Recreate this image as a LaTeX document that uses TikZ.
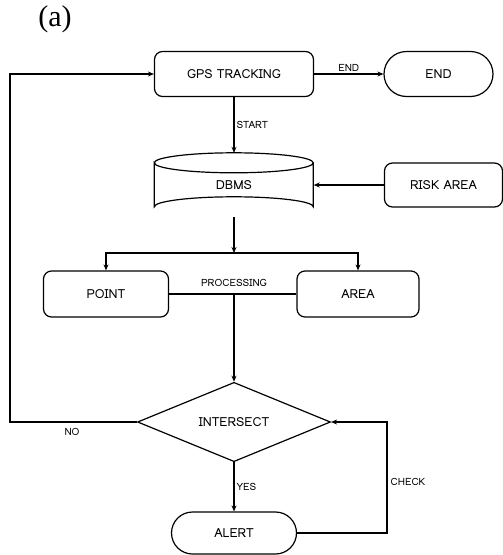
\documentclass[tikz,border=0pt]{standalone}
\usepackage{fontspec}
\setmainfont{Loma}
\newfontfamily\seriffont{Liberation Serif}
\usetikzlibrary{shapes.geometric, shapes.misc, arrows.meta}
\tikzset{
  box/.style={draw, line width=1.2pt, rounded corners=8pt, minimum height=45pt, inner sep=0pt, font=\fontsize{12.5}{14}\selectfont},
  pill/.style={draw, line width=1.2pt, rounded rectangle, minimum height=45pt, inner sep=0pt, font=\fontsize{12.5}{14}\selectfont},
  dec/.style={draw, line width=1.2pt, diamond, minimum width=193pt, minimum height=72pt, inner sep=0pt, font=\fontsize{12.5}{14}\selectfont},
  conn/.style={line width=2pt},
  arr/.style={conn, -{Stealth[length=6pt,width=5pt]}},
  lbl/.style={font=\fontsize{10}{11}\selectfont, inner sep=1.5pt},
}
\begin{document}
\begin{tikzpicture}[x=1pt, y=-1pt]
\useasboundingbox (0,0) rectangle (503,555);
\node[font=\seriffont\fontsize{30}{32}\selectfont] (lab) at (55,19) {(a)};
\node[box, minimum width=159pt] (gps) at (234,74) {GPS TRACKING};
\node[pill, minimum width=109pt] (end) at (438.5,74) {END};
\node[minimum width=159pt, minimum height=64pt, inner sep=0pt, font=\fontsize{12.5}{14}\selectfont] (db) at (234,185) {DBMS};
\draw[line width=1.2pt] (db.north west) ++(0,10) arc[start angle=180, end angle=-180, x radius=79.5pt, y radius=10pt]
  -- ++(0,44) arc[start angle=180, end angle=360, x radius=79.5pt, y radius=-10pt] -- ++(0,-44);
\node[box, minimum width=118pt, minimum height=44pt] (risk) at (443.5,185) {RISK AREA};
\node[box, minimum width=125pt, minimum height=46pt] (point) at (106,294) {POINT};
\node[box, minimum width=122pt, minimum height=46pt] (area) at (358,294) {AREA};
\node[dec] (int) at (234,422) {INTERSECT};
\node[pill, minimum width=125pt, minimum height=42pt] (alert) at (234,533) {ALERT};
\coordinate (split) at (234,253);
\coordinate (proc) at (234,294);
\coordinate (nob) at (10,422);
\coordinate (not) at (10,74);
\coordinate (chb) at (387,533);
\coordinate (cht) at (387,422);
\draw[arr] (gps.east) -- node[lbl, above] {END} (end.west);
\draw[arr] (gps.south) -- node[lbl, right, pos=0.5] {START} (db.north);
\draw[arr] (risk.west) -- (db.east);
\draw[arr] (db.south) -- (split);
\draw[arr] (split) -| (point.north);
\draw[arr] (split) -| (area.north);
\draw[conn] (point.east) -- (area.west);
\node[lbl] (plab) at (234,283) {PROCESSING};
\draw[arr] (proc) -- (int.north);
\draw[arr] (int.west) -- (nob) -- (not) -- (gps.west);
\node[lbl] (nolab) at (72,432) {NO};
\draw[arr] (int.south) -- node[lbl, right] {YES} (alert.north);
\draw[arr] (alert.east) -- (chb) -- (cht) -- (int.east);
\node[lbl] (chlab) at (408,482) {CHECK};
\end{tikzpicture}
\end{document}
